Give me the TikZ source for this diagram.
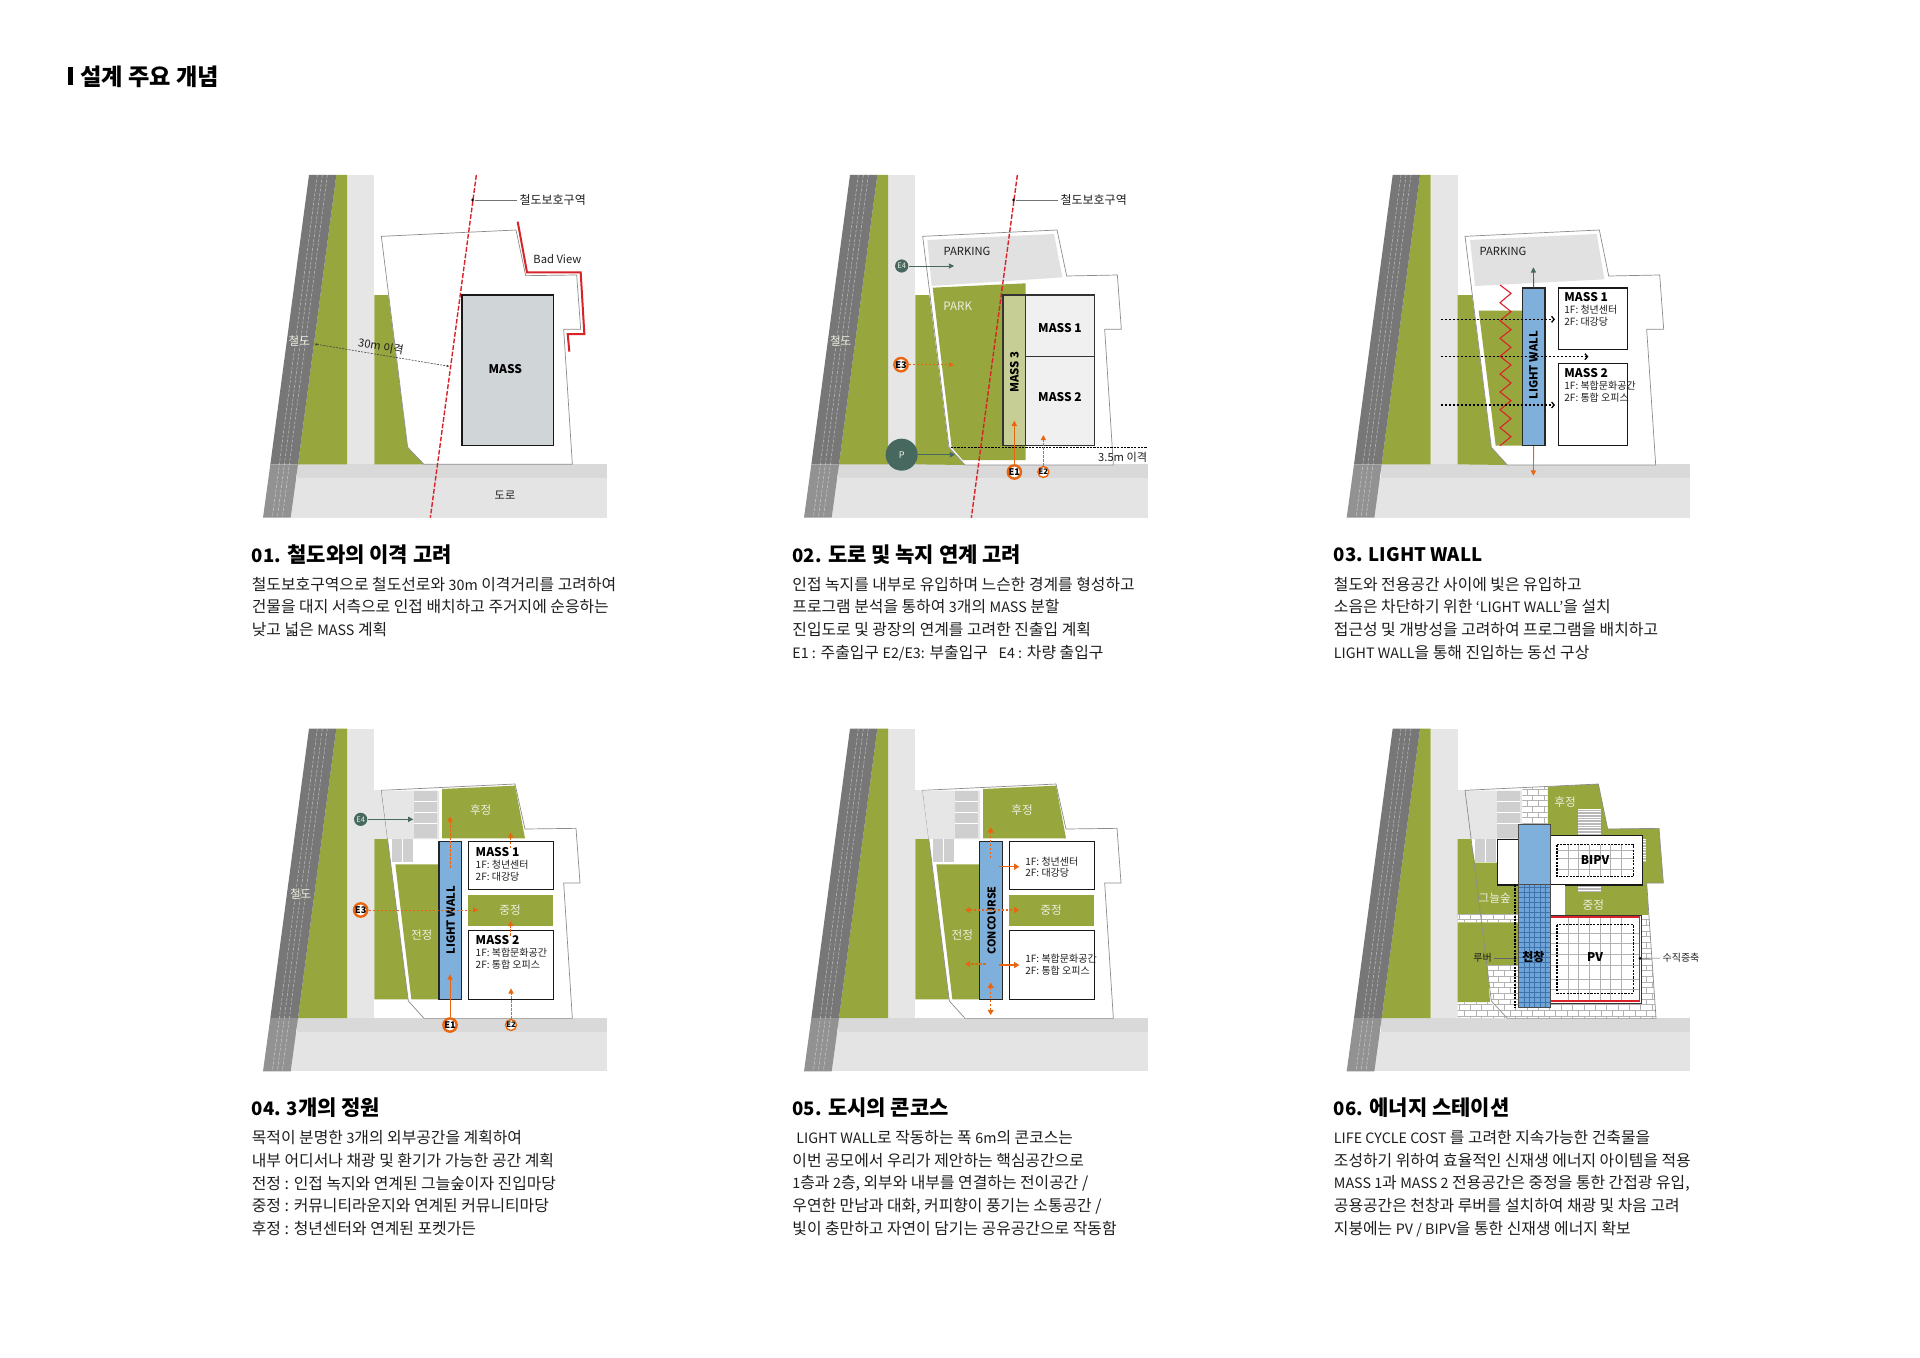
\documentclass[tikz,border=0pt]{standalone}
\usepackage{fontspec}
\setmainfont{Noto Sans CJK KR}
\usetikzlibrary{arrows.meta}
\definecolor{gr}{HTML}{98A63E}
\definecolor{railc}{HTML}{777777}
\definecolor{railb}{HTML}{929292}
\definecolor{strip}{HTML}{E6E6E6}
\definecolor{banda}{HTML}{D9D9D9}
\definecolor{bandb}{HTML}{E4E4E4}
\definecolor{redl}{HTML}{D8232A}
\definecolor{orl}{HTML}{E9650F}
\definecolor{teal2}{HTML}{46685F}
\definecolor{bluew}{HTML}{7FB0DC}
\definecolor{bluep}{HTML}{6FA5D8}
\definecolor{bluel}{HTML}{3F72AB}
\definecolor{massg}{HTML}{D0D5D8}
\definecolor{cell}{HTML}{CFCFCF}
\definecolor{park}{HTML}{E1E1E1}
\definecolor{inkc}{HTML}{1E1E1E}
\definecolor{softw}{HTML}{EDEFE0}
\tikzset{
  panel/.style={x=0.16667pt,y=-0.16667pt},
  lbl/.style={font=\fontsize{5.6}{6.6}\selectfont,text=inkc,inner sep=0pt},
  wlbl/.style={font=\fontsize{5.8}{6.6}\selectfont,text=softw,inner sep=0pt},
  blbl/.style={font=\bfseries\fontsize{6}{7}\selectfont,text=black,inner sep=0pt},
  wallt/.style={font=\bfseries\fontsize{5.6}{7}\selectfont,text=black,inner sep=0pt,rotate=90},
  slbl/.style={font=\fontsize{5}{5.9}\selectfont,text=inkc,inner sep=0pt,align=left,anchor=north west},
  site/.style={draw=black!45,line width=0.35pt,fill=white},
  boxw/.style={draw=black!90,line width=0.6pt,fill=white},
  wall/.style={draw=black!85,line width=0.6pt,fill=bluew},
  railz/.style={draw=redl,line width=0.7pt,dash pattern=on 2.4pt off 0.9pt},
  orarrow/.style={draw=orl,line width=0.45pt,-{Triangle[width=2.6pt,length=2.6pt]}},
  ordash/.style={orarrow,dash pattern=on 1.2pt off 0.8pt},
  orbold/.style={draw=orl,line width=0.7pt,-{Triangle[width=3pt,length=2.6pt]}},
  ordashb/.style={draw=orl,line width=0.6pt,dash pattern=on 1.2pt off 0.8pt,{Triangle[width=3pt,length=2.6pt]}-{Triangle[width=3pt,length=2.6pt]}},
  tealarrow/.style={draw=teal2,line width=0.45pt,-{Triangle[width=2.6pt,length=2.6pt]}},
  blackdash/.style={draw=black,line width=0.65pt,dash pattern=on 1.3pt off 0.7pt,-{Straight Barb[width=3pt,length=1.3pt]}},
  ringb/.style={circle,draw=orl,line width=1.2pt,fill=white,inner sep=0pt,minimum size=6.4pt,font=\bfseries\fontsize{4.6}{5}\selectfont,text=black},
  rings/.style={circle,draw=orl,line width=0.7pt,fill=white,inner sep=0pt,minimum size=4.6pt,font=\bfseries\fontsize{3.8}{4}\selectfont,text=black},
  tealc/.style={circle,fill=teal2,inner sep=0pt,minimum size=6.6pt,font=\fontsize{4.6}{5}\selectfont,text=softw},
  dotc/.style={circle,fill=black,inner sep=0pt,minimum size=1.5pt},
  headtxt/.style={font=\bfseries\fontsize{10.5}{12}\selectfont,text=black,inner sep=0pt,anchor=west},
  bodytxt/.style={font=\fontsize{7.93}{11.35}\selectfont,text=inkc,inner sep=0pt,anchor=north west,align=left},
  griddy/.style={draw=black!30,line width=0.2pt},
}
\newcommand\lh[1]{{\fontsize{9.3}{12}\selectfont #1}}
\newcommand\lb[1]{{\fontsize{7.15}{11.35}\selectfont #1}}
\newcommand\panelbase[2]{%
  \begin{scope}[shift={(#1,#2)}]
    \fill[strip] (321,45) rectangle (403,913);
    \fill[bandb] (152,955) rectangle (1100,1073);
    \fill[banda] (172,913) rectangle (1100,955);
    \fill[gr] (289,45) -- (321,45) -- (321,913) -- (174,913) -- cycle;
    \fill[railc] (207,45) -- (289,45) -- (174,913) -- (91,913) -- cycle;
    \fill[railb] (91,913) -- (174,913) -- (152,1073) -- (69,1073) -- cycle;
    \foreach \xa/\xb in {232/97,247/112,262/127}
      \draw[white,opacity=0.55,line width=0.25pt,dash pattern=on 1.5pt off 0.8pt] (\xa,45) -- (\xb,1073);
  \end{scope}}
\newcommand\redzone[2]{% name, dx
  \draw[railz] (709+#2,45) -- (571+#2,1073);
  \node[dotc] (#1dot) at (698+#2,120) {};
  \node[lbl,font=\fontsize{6}{7}\selectfont] (#1zone) at (938+#2,120) {철도보호구역};
  \draw[black!55,line width=0.3pt,shorten >=1pt] (#1dot) -- (#1zone.west);}
\newcommand\stairs[4]{%
  \fill[black!28] (#1,#2) rectangle (#3,#4);
  \pgfmathtruncatemacro\nexty{#2+8}
  \foreach \yy in {#2,\nexty,...,#4} \draw[white,line width=0.25pt] (#1,\yy) -- (#3,\yy);}
\newcommand\capt[5]{% name, x px, y px, heading, body
  \node[headtxt] (#1h) at (#2*0.5pt,-#3*0.5pt) {#4};
  \node[bodytxt] (#1b) at (#2*0.5pt,-#3*0.5pt-11pt) {#5};}
\begin{document}
\begin{tikzpicture}
\useasboundingbox (0,0) rectangle (960pt,-679pt);
\fill[white] (0,0) rectangle (960pt,-679pt);
% title
\fill[black] (34.2pt,-33.4pt) rectangle (36.7pt,-42.5pt);
\node[font=\bfseries\fontsize{11.6}{14}\selectfont,text=black,inner sep=0pt,anchor=west] (maintitle) at (40pt,-38.2pt) {설계\ 주요\ 개념};

% ---------- panel 1
\begin{scope}[panel,shift={(120pt,-80pt)}]
\panelbase{0}{0}
\fill[gr] (403,405) -- (445,405) -- (503,862) -- (552,913) -- (403,913) -- cycle;
\draw[site] (424,229) -- (828,210) -- (857,347) -- (1010,345) -- (1022,508) -- (971,508) -- (997,913) -- (552,913) -- (503,862) -- cycle;
\draw[draw=black!90,line width=0.7pt,fill=massg] (666,405) rectangle (941,857);
\node[blbl] (p1m) at (796,628) {MASS};
\redzone{p1}{0}
\draw[redl,line width=1pt] (833,185) -- (861,337) -- (1022,337) -- (1033,522) -- (983,522) -- (988,575);
\node[lbl] (p1bv) at (952,297) {Bad View};
\node[wlbl] (p1rail) at (178,543) {철도};
\node[lbl] (p1road) at (795,1005) {도로};
\node[lbl,rotate=-10] (p1gap) at (423,560) {30m 이격};
\coordinate (p1a) at (224,552); \coordinate (p1b) at (628,619);
\draw[black!75,line width=0.3pt,dash pattern=on 1pt off 0.6pt,{Latex[length=1.3pt,width=1.3pt]}-{Latex[length=1.3pt,width=1.3pt]}] (p1a) -- (p1b);
\end{scope}

% ---------- panel 2
\begin{scope}[panel,shift={(390pt,-80pt)}]
\panelbase{3}{0}
\fill[gr] (406,405) -- (448,405) -- (506,862) -- (555,915) -- (406,913) -- cycle;
\draw[site] (428,229) -- (831,210) -- (860,348) -- (1012,345) -- (1024,508) -- (974,508) -- (1000,915) -- (555,915) -- (507,862) -- cycle;
\fill[park] (442,240) -- (822,222) -- (847,352) -- (455,378) -- cycle;
\fill[gr] (458,383) -- (737,370) -- (737,900) -- (548,900) -- (515,862) -- cycle;
\draw[black!80,line width=0.6pt,fill=gr!55] (669,405) rectangle (737,857);
\draw[black!80,line width=0.6pt,fill=black!6] (737,405) rectangle (943,590);
\draw[black!80,line width=0.6pt,fill=black!6] (737,590) rectangle (943,857);
\node[wallt,font=\bfseries\fontsize{5.7}{7}\selectfont] (p2m3) at (703,636) {MASS 3};
\node[blbl] (p2m1) at (840,505) {MASS 1};
\node[blbl] (p2m2) at (840,710) {MASS 2};
\node[lbl] (p2pk) at (561,275) {PARKING};
\node[wlbl] (p2pa) at (533,438) {PARK};
\redzone{p2}{3}
\node[wlbl] (p2rail) at (182,543) {철도};
\coordinate (p2la) at (512,862); \coordinate (p2lb) at (1103,862);
\draw[black,line width=0.6pt,dash pattern=on 1.1pt off 0.6pt] (p2la) -- (p2lb);
\node[lbl] (p2gap) at (1028,892) {3.5m 이격};
\node[tealc,font=\fontsize{3.8}{4}\selectfont] (p2e4) at (365,318) {E4};
\coordinate (p2e4t) at (522,318);
\draw[tealarrow] (p2e4) -- (p2e4t);
\node[ringb] (p2e3) at (363,614) {E3};
\coordinate (p2e3t) at (522,614);
\draw[ordash] (p2e3) -- (p2e3t);
\node[tealc,minimum size=16pt] (p2p) at (365,884) {P};
\coordinate (p2pt) at (525,884);
\draw[tealarrow] (p2p) -- (p2pt);
\node[ringb] (p2e1) at (703,936) {E1};
\coordinate (p2e1t) at (703,782);
\draw[orarrow] (p2e1) -- (p2e1t);
\node[rings] (p2e2) at (790,936) {E2};
\coordinate (p2e2t) at (790,825);
\draw[ordash] (p2e2) -- (p2e2t);
\end{scope}

% ---------- panel 3
\begin{scope}[panel,shift={(660pt,-80pt)}]
\panelbase{11}{0}
\fill[gr] (413,405) -- (456,405) -- (514,862) -- (562,915) -- (413,913) -- cycle;
\draw[site] (435,229) -- (838,210) -- (866,348) -- (1019,345) -- (1031,508) -- (980,508) -- (1007,915) -- (562,915) -- (514,862) -- cycle;
\fill[park] (450,240) -- (830,222) -- (853,358) -- (465,378) -- cycle;
\node[lbl] (p3pk) at (549,275) {PARKING};
\fill[gr] (476,452) -- (607,452) -- (607,857) -- (527,857) -- cycle;
\draw[redl,line width=0.55pt] (540,375) -- (573,400) -- (540,428) -- (573,455) -- (540,482) -- (573,509) -- (540,535) -- (573,562) -- (540,589) -- (573,615) -- (540,642) -- (573,669) -- (540,696) -- (573,722) -- (540,749) -- (573,776) -- (540,803) -- (573,830) -- (540,857);
\node[wall,minimum width=11.33pt,minimum height=78.8pt,inner sep=0pt] (p3w) at (641,620.5) {};
\node[wallt] (p3wt) at (640,616) {LIGHT WALL};
\coordinate (p3up) at (640,322); \coordinate (p3dn) at (640,947);
\draw[tealarrow] (p3w.north) -- (p3up);
\draw[orarrow] (p3w.south) -- (p3dn);
\draw[boxw] (716,384) rectangle (922,569);
\draw[boxw] (716,610) rectangle (922,857);
\node[blbl,anchor=west] (p3m1) at (732,411) {MASS 1};
\node[slbl] (p3m1s) at (732,434) {1F: 청년센터\\2F: 대강당};
\node[blbl,anchor=west] (p3m2) at (732,640) {MASS 2};
\node[slbl] (p3m2s) at (732,662) {1F: 복합문화공간\\2F: 통합 오피스};
\coordinate (p3a1) at (362,478); \coordinate (p3a2) at (705,478);
\coordinate (p3b1) at (362,590); \coordinate (p3b2) at (805,590);
\coordinate (p3c1) at (362,735); \coordinate (p3c2) at (705,735);
\draw[blackdash] (p3a1) -- (p3a2);
\draw[blackdash] (p3b1) -- (p3b2);
\draw[blackdash] (p3c1) -- (p3c2);
\end{scope}

% ---------- panel 4
\begin{scope}[panel,shift={(120pt,-357.5pt)}]
\panelbase{0}{-4}
\fill[strip] (403,226) rectangle (445,372);
\fill[gr] (403,372) -- (444,372) -- (505,853) -- (403,853) -- cycle;
\draw[site] (424,226) -- (825,207) -- (855,342) -- (1008,340) -- (1020,504) -- (971,504) -- (997,910) -- (552,910) -- (505,858) -- cycle;
\fill[strip] (425,227) -- (597,227) -- (597,372) -- (443,372) -- cycle;
\fill[cell] (522,228) rectangle (590,370);
\foreach \yy in {260,292,325} \draw[white,line width=0.3pt] (522,\yy) -- (590,\yy);
\fill[cell] (456,372) rectangle (520,440);
\draw[white,line width=0.3pt] (488,372) -- (488,440);
\fill[gr] (606,222) -- (825,212) -- (855,370) -- (606,370) -- cycle;
\fill[gr] (466,448) -- (597,448) -- (597,853) -- (514,853) -- cycle;
\fill[gr] (685,539) rectangle (940,633);
\node[wall,minimum width=11.33pt,minimum height=78.8pt,inner sep=0pt] (p4w) at (631,616.5) {};
\node[wallt] (p4wt) at (632,616) {LIGHT WALL};
\draw[boxw] (685,380) rectangle (940,523);
\draw[boxw] (685,647) rectangle (940,853);
\node[blbl,anchor=west] (p4m1) at (706,411) {MASS 1};
\node[slbl] (p4m1s) at (706,434) {1F: 청년센터\\2F: 대강당};
\node[blbl,anchor=west] (p4m2) at (706,676) {MASS 2};
\node[slbl] (p4m2s) at (706,698) {1F: 복합문화공간\\2F: 통합 오피스};
\node[wlbl] (p4hu) at (722,285) {후정};
\node[wlbl] (p4jeon) at (545,660) {전정};
\node[wlbl] (p4jung) at (810,584) {중정};
\node[wlbl] (p4rail) at (182,538) {철도};
\node[tealc,font=\fontsize{3.8}{4}\selectfont] (p4e4) at (362,313) {E4};
\coordinate (p4e4t) at (520,313);
\draw[tealarrow] (p4e4) -- (p4e4t);
\node[ringb] (p4e3) at (362,585) {E3};
\coordinate (p4e3t) at (715,585);
\draw[ordash] (p4e3) -- (p4e3t);
\node[ringb] (p4e1) at (630,930) {E1};
\coordinate (p4e1t) at (630,778);
\draw[orarrow] (p4e1) -- (p4e1t);
\node[rings] (p4e2) at (813,930) {E2};
\coordinate (p4e2t) at (813,820);
\draw[ordash] (p4e2) -- (p4e2t);
\coordinate (p4a1) at (630,458); \coordinate (p4a2) at (630,304);
\coordinate (p4b1) at (812,400); \coordinate (p4b2) at (812,352);
\coordinate (p4c1) at (812,662); \coordinate (p4c2) at (812,618);
\draw[ordash] (p4a1) -- (p4a2);
\draw[ordash] (p4b1) -- (p4b2);
\draw[ordash] (p4c1) -- (p4c2);
\end{scope}

% ---------- panel 5
\begin{scope}[panel,shift={(390pt,-357.5pt)}]
\panelbase{3}{-4}
\fill[strip] (406,226) rectangle (448,372);
\fill[gr] (406,372) -- (447,372) -- (508,853) -- (406,853) -- cycle;
\draw[site] (428,226) -- (828,207) -- (858,342) -- (1011,340) -- (1023,504) -- (974,504) -- (1000,910) -- (555,910) -- (508,858) -- cycle;
\fill[strip] (428,227) -- (600,227) -- (600,372) -- (446,372) -- cycle;
\fill[cell] (525,228) rectangle (593,370);
\foreach \yy in {260,292,325} \draw[white,line width=0.3pt] (525,\yy) -- (593,\yy);
\fill[cell] (459,372) rectangle (523,440);
\draw[white,line width=0.3pt] (491,372) -- (491,440);
\fill[gr] (609,222) -- (828,212) -- (858,370) -- (609,370) -- cycle;
\fill[gr] (469,448) -- (600,448) -- (600,853) -- (517,853) -- cycle;
\fill[gr] (688,539) rectangle (943,633);
\node[wall,minimum width=11.33pt,minimum height=78.8pt,inner sep=0pt] (p5w) at (633.5,616.5) {};
\node[wallt,font=\bfseries\fontsize{5.4}{7}\selectfont] (p5wt) at (635,616) {CONCOURSE};
\draw[boxw] (688,380) rectangle (943,523);
\draw[boxw] (688,647) rectangle (943,853);
\node[slbl] (p5m1s) at (735,424) {1F: 청년센터\\2F: 대강당};
\node[slbl] (p5m2s) at (735,717) {1F: 복합문화공간\\2F: 통합 오피스};
\node[wlbl] (p5hu) at (726,285) {후정};
\node[wlbl] (p5jeon) at (547,660) {전정};
\node[wlbl] (p5jung) at (813,584) {중정};
\coordinate (p5a1) at (632,430); \coordinate (p5a2) at (632,337);
\coordinate (p5b1) at (657,455); \coordinate (p5b2) at (718,455);
\coordinate (p5c1) at (555,585); \coordinate (p5c2) at (718,585);
\coordinate (p5d1) at (617,747); \coordinate (p5d2) at (555,747);
\coordinate (p5e1) at (657,750); \coordinate (p5e2) at (718,750);
\coordinate (p5f1) at (632,803); \coordinate (p5f2) at (632,900);
\draw[orbold,dash pattern=on 1.2pt off 0.8pt] (p5a1) -- (p5a2);
\draw[orbold] (p5b1) -- (p5b2);
\draw[ordashb] (p5c1) -- (p5c2);
\draw[orbold,dash pattern=on 1.2pt off 0.8pt] (p5d1) -- (p5d2);
\draw[orbold] (p5e1) -- (p5e2);
\draw[ordashb] (p5f1) -- (p5f2);
\end{scope}

% ---------- panel 6
\begin{scope}[panel,shift={(660pt,-357.5pt)}]
\panelbase{11}{-4}
\fill[strip] (413,226) rectangle (455,372);
\fill[white] (435,226) -- (835,207) -- (863,342) -- (1017,340) -- (1030,504) -- (980,504) -- (1008,910) -- (562,910) -- (514,858) -- cycle;
\fill[strip] (435,227) -- (606,227) -- (606,372) -- (452,372) -- cycle;
\fill[cell] (532,228) rectangle (600,370);
\foreach \yy in {260,292,325} \draw[white,line width=0.3pt] (532,\yy) -- (600,\yy);
\fill[cell] (465,372) rectangle (528,440);
\draw[white,line width=0.3pt] (497,372) -- (497,440);
\fill[gr] (683,215) -- (835,207) -- (863,342) -- (1017,340) -- (1030,504) -- (980,504) -- (986,600) -- (683,600) -- cycle;
\fill[gr] (413,372) -- (452,372) -- (465,443) -- (596,443) -- (596,750) -- (503,750) -- (510,862) -- (413,862) -- cycle;
\begin{scope}
  \clip (607,219) -- (683,215) -- (683,328) -- (607,328) -- cycle
        (413,597) -- (596,597) -- (596,622) -- (413,622) -- cycle
        (413,862) -- (510,862) -- (562,910) -- (413,908) -- cycle
        (503,750) -- (596,750) -- (596,910) -- (562,910) -- (512,858) -- cycle
        (596,865) -- (965,865) -- (965,600) -- (986,600) -- (1008,910) -- (596,910) -- cycle;
  \fill[white] (400,200) rectangle (1020,920);
  \foreach \r in {0,...,41}{
    \pgfmathsetmacro\yy{206+\r*17}
    \pgfmathsetmacro\off{mod(\r,2)*17}
    \draw[griddy] (400,\yy) -- (1020,\yy);
    \foreach \c in {0,...,18}{
      \pgfmathsetmacro\xx{400+\c*34+\off}
      \draw[griddy] (\xx,\yy) -- (\xx,\yy+17);
    }
  }
\end{scope}
\stairs{775}{282}{843}{362}
\stairs{775}{510}{843}{532}
\stairs{965}{372}{978}{440}
\draw[draw=black!45,line width=0.35pt] (435,226) -- (835,207) -- (863,342) -- (1017,340) -- (1030,504) -- (980,504) -- (1008,910) -- (562,910) -- (514,858) -- cycle;
\draw[boxw] (532,373) rectangle (596,510);
\draw[boxw] (692,362) rectangle (967,510);
\fill[white] (692,510) rectangle (735,600);
\draw[griddy] (711,405) -- (940,405) (711,430) -- (940,430) (711,462) -- (940,462);
\foreach \xx in {743,775,807,839,871,903} \draw[griddy] (\xx,389) -- (\xx,484);
\draw[black,line width=0.55pt,dash pattern=on 1.1pt off 0.6pt] (711,389) rectangle (940,484);
\node[blbl] (p6bipv) at (825,436) {BIPV};
% PV
\draw[draw=black!80,line width=0.35pt,fill=white] (692,600) rectangle (965,865);
\foreach \yy in {654,686,718,750,792,824} \draw[griddy] (692,\yy) -- (959,\yy);
\foreach \xx in {743,775,807,839,871,903} \draw[griddy] (\xx,606) -- (\xx,858);
\draw[redl,line width=0.6pt] (692,606) rectangle (959,858);
\draw[black,line width=0.55pt,dash pattern=on 1.1pt off 0.6pt] (711,629) rectangle (940,835);
\node[blbl] (p6pv) at (825,727) {PV};
% skylight
\draw[draw=black!70,line width=0.5pt,fill=bluew] (596,328) rectangle (691,508);
\fill[bluep] (596,508) rectangle (691,878);
\foreach \xx in {612,628,644,660,676} \draw[bluel,line width=0.2pt] (\xx,508) -- (\xx,878);
\foreach \r in {0,...,24}{
  \pgfmathsetmacro\yy{516+\r*15}
  \draw[bluel,line width=0.2pt] (596,\yy) -- (691,\yy);
}
\draw[draw=black!70,line width=0.5pt] (596,508) rectangle (691,878);
\coordinate (p6la) at (585,510); \coordinate (p6lb) at (585,878);
\draw[black,line width=0.6pt,dash pattern=on 1.1pt off 0.6pt] (p6la) -- (p6lb);
\node[blbl] (p6sky) at (640,726) {천창};
\node[wlbl] (p6hu) at (735,260) {후정};
\node[wlbl] (p6jung) at (820,570) {중정};
\node[wlbl] (p6sh) at (524,550) {그늘숲};
\node[lbl,font=\fontsize{5}{6}\selectfont] (p6louver) at (488,727) {루버};
\node[dotc] (p6ld) at (585,730) {};
\draw[black!60,line width=0.3pt] (p6louver.east) ++(6,3) -- (p6ld);
\node[lbl,font=\fontsize{5}{6}\selectfont] (p6vert) at (1083,729) {수직증축};
\node[dotc] (p6vd) at (960,730) {};
\draw[black!60,line width=0.3pt,shorten >=1pt] (p6vd) -- (p6vert.west);
\end{scope}

% ---------- captions
\capt{c1}{251.5}{554.5}{\lh{01.} 철도와의 이격 고려}{철도보호구역으로 철도선로와 \lb{30m} 이격거리를 고려하여\\건물을 대지 서측으로 인접 배치하고 주거지에 순응하는\\낮고 넓은 \lb{MASS} 계획}
\capt{c2}{792}{554.5}{\lh{02.} 도로 및 녹지 연계 고려}{인접 녹지를 내부로 유입하며 느슨한 경계를 형성하고\\프로그램 분석을 통하여 \lb{3}개의 \lb{MASS} 분할\\진입도로 및 광장의 연계를 고려한 진출입 계획\\\lb{E1 :} 주출입구 \lb{E2/E3:} 부출입구 \ \ \lb{E4 :} 차량 출입구}
\capt{c3}{1333.5}{554.5}{\lh{03. LIGHT WALL}}{철도와 전용공간 사이에 빛은 유입하고\\소음은 차단하기 위한 \lb{‘LIGHT WALL’}을 설치\\접근성 및 개방성을 고려하여 프로그램을 배치하고\\\lb{LIGHT WALL}을 통해 진입하는 동선 구상}
\capt{c4}{251.5}{1108}{\lh{04. 3}개의 정원}{목적이 분명한 \lb{3}개의 외부공간을 계획하여\\내부 어디서나 채광 및 환기가 가능한 공간 계획\\전정 : 인접 녹지와 연계된 그늘숲이자 진입마당\\중정 : 커뮤니티라운지와 연계된 커뮤니티마당\\후정 : 청년센터와 연계된 포켓가든}
\capt{c5}{792}{1108}{\lh{05.} 도시의 콘코스}{\hspace{2pt}\lb{LIGHT WALL}로 작동하는 폭 \lb{6m}의 콘코스는\\이번 공모에서 우리가 제안하는 핵심공간으로\\\lb{1}층과 \lb{2}층, 외부와 내부를 연결하는 전이공간 /\\우연한 만남과 대화, 커피향이 풍기는 소통공간 /\\빛이 충만하고 자연이 담기는 공유공간으로 작동함}
\capt{c6}{1333.5}{1108}{\lh{06.} 에너지 스테이션}{\lb{LIFE CYCLE COST} 를 고려한 지속가능한 건축물을\\조성하기 위하여 효율적인 신재생 에너지 아이템을 적용\\\lb{MASS 1}과 \lb{MASS 2} 전용공간은 중정을 통한 간접광 유입,\\공용공간은 천창과 루버를 설치하여 채광 및 차음 고려\\지붕에는 \lb{PV / BIPV}을 통한 신재생 에너지 확보}
\end{tikzpicture}
\end{document}
